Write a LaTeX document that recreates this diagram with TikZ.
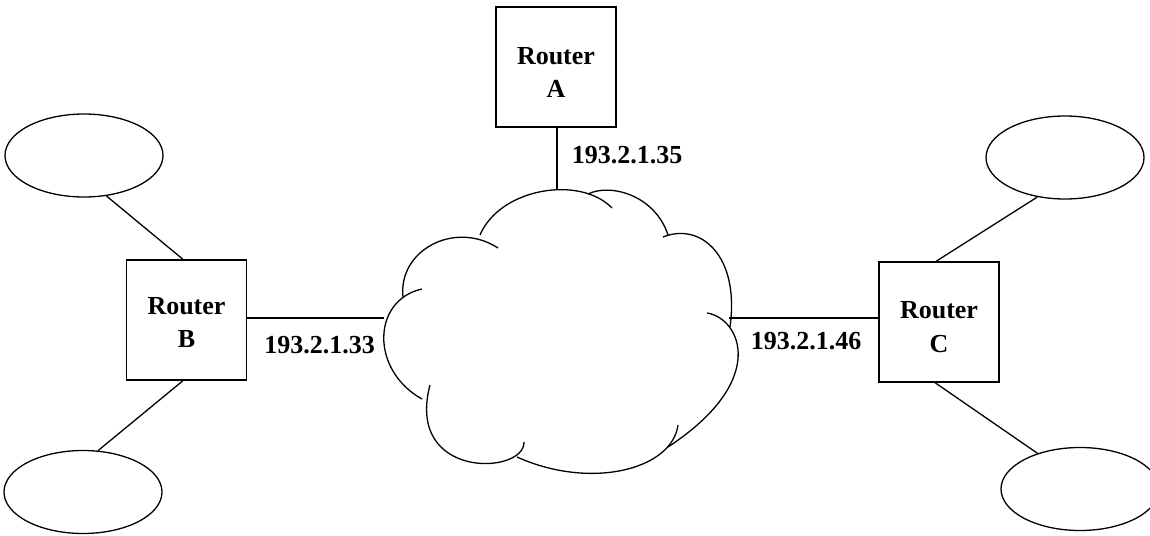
\documentclass[tikz,border=0pt]{standalone}
\usepackage{fontspec}
\setmainfont{Liberation Serif}
\usetikzlibrary{shapes.geometric}

\tikzset{
  routerbox/.style={draw, line width=1.3pt, minimum width=120pt, minimum height=120pt, inner sep=0pt},
  lan/.style={draw, ellipse, line width=1.3pt, minimum width=158pt, minimum height=83pt, inner sep=0pt},
  link/.style={line width=1.3pt},
  cloudline/.style={line width=1.3pt},
  tag/.style={font=\fontsize{26}{33.5}\selectfont\bfseries, inner sep=0pt, align=center},
}

\begin{document}
\begin{tikzpicture}[x=1pt, y=-1pt]
\useasboundingbox (0,0) rectangle (1150,535);

% routers
\node[routerbox] (a) at (556,67) {};
\node[routerbox] (b) at (186.5,320) {};
\node[routerbox] (c) at (939,322) {};
\node[tag] (atext) at (556,72.5) {Router\\A};
\node[tag] (btext) at (186.5,322.5) {Router\\B};
\node[tag] (ctext) at (939,327) {Router\\C};

% attached networks
\node[lan] (e1) at (84,155.5) {};
\node[lan] (e2) at (83,492) {};
\node[lan] (e3) at (1065,157.5) {};
\node[lan] (e4) at (1080,489) {};

% the internetwork cloud, one arc per lobe
\draw[cloudline] (480,235) .. controls (500,188) and (580,175) .. (612,208);
\draw[cloudline] (588,194) .. controls (610,183) and (655,195) .. (668,235);
\draw[cloudline] (663,237) .. controls (700,222) and (740,255) .. (730,327);
\draw[cloudline] (707,313) .. controls (740,318) and (770,380) .. (668,447);
\draw[cloudline] (678,425) .. controls (672,470) and (590,490) .. (517,457);
\draw[cloudline] (524,442) .. controls (525,475) and (405,480) .. (430,385);
\draw[cloudline] (422,399) .. controls (370,370) and (372,300) .. (422,289);
\draw[cloudline] (403,297) .. controls (398,250) and (455,220) .. (498,248);

\coordinate (cloudtop) at (557,189);
\coordinate (cloudleft) at (384,318);
\coordinate (cloudright) at (729,318);

% links to the cloud
\draw[link] (a.south -| cloudtop) -- (cloudtop);
\draw[link] (b.east |- cloudleft) -- (cloudleft);
\draw[link] (c.west |- cloudright) -- (cloudright);

% links to the networks
\draw[link] ([xshift=-3.5pt]b.north) -- (e1.-61);
\draw[link] ([xshift=-3.5pt]b.south) -- (e2.70);
\draw[link] ([xshift=-3pt]c.north) -- (e3.-125);
\draw[link] ([xshift=-4pt]c.south) -- (e4.140);

% interface addresses
\node[tag] (ipa) at (627,155.5) {193.2.1.35};
\node[tag] (ipb) at (319.5,345) {193.2.1.33};
\node[tag] (ipc) at (806,341.5) {193.2.1.46};
\end{tikzpicture}
\end{document}
